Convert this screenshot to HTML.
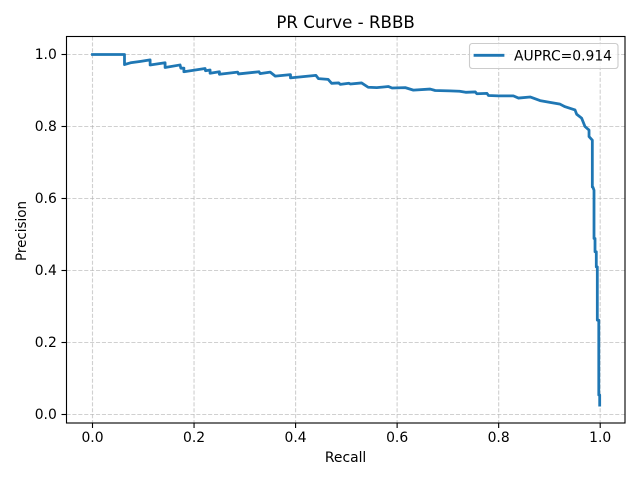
<!DOCTYPE html>
<html lang="en">
<head>
<meta charset="utf-8">
<title>PR Curve - RBBB</title>
<style>
html,body{margin:0;padding:0;background:#fff;width:640px;height:480px;overflow:hidden}
svg{display:block}
text{font-family:"DejaVu Sans",sans-serif;fill:#000}
</style>
</head>
<body>
<svg id="chart" xmlns="http://www.w3.org/2000/svg" width="640" height="480" viewBox="0 0 640 480">
  <rect x="0" y="0" width="640" height="480" fill="#fff"/>
  <g id="grid"></g>
  <path id="curve" fill="none" stroke="#1f77b4" stroke-width="2.78" stroke-linejoin="round" stroke-linecap="square"></path>
  <rect x="66.5" y="36.5" width="558.5" height="386.5" fill="none" stroke="#000" stroke-width="1.11"/>
  <g id="ticks"></g>
  <text x="345.6" y="28" font-size="16.67" text-anchor="middle">PR Curve - RBBB</text>
  <text x="345.6" y="462" font-size="13.89" text-anchor="middle">Recall</text>
  <text transform="translate(26 231) rotate(-90)" font-size="13.89" text-anchor="middle" textLength="60" lengthAdjust="spacingAndGlyphs">Precision</text>
  <g>
    <rect x="469.5" y="43.5" width="148.5" height="25" rx="2.8" fill="#fff" fill-opacity="0.8" stroke="#ccc" stroke-width="1.11"/>
    <line x1="475" y1="55.3" x2="503" y2="55.3" stroke="#1f77b4" stroke-width="2.78" stroke-linecap="square"/>
    <text x="514" y="60.3" font-size="13.89">AUPRC=0.914</text>
  </g>
</svg>
<script>
const recall = [0,0.063,0.063,0.075,0.095,0.1135,0.1135,0.143,0.143,0.1725,0.174,0.18,0.18,0.2218,0.2225,0.2316,0.2316,0.25,0.25,0.286,0.2875,0.328,0.33,0.35,0.36,0.39,0.39,0.44,0.445,0.464,0.471,0.485,0.488,0.505,0.508,0.53,0.543,0.56,0.583,0.59,0.616,0.632,0.665,0.675,0.704,0.723,0.735,0.754,0.757,0.777,0.78,0.80,0.829,0.839,0.862,0.8815,0.901,0.921,0.9307,0.9504,0.9537,0.9635,0.970,0.978,0.978,0.9845,0.9845,0.9855,0.9878,0.9878,0.9898,0.9898,0.9923,0.9923,0.9943,0.9943,0.9972,0.9972,0.999,0.999];
const precision = [1,1,0.972,0.977,0.981,0.985,0.971,0.977,0.964,0.971,0.962,0.962,0.952,0.961,0.955,0.957,0.948,0.952,0.945,0.951,0.946,0.952,0.947,0.951,0.94,0.944,0.935,0.942,0.933,0.931,0.92,0.921,0.917,0.92,0.918,0.921,0.909,0.908,0.911,0.907,0.908,0.901,0.904,0.9,0.899,0.898,0.895,0.896,0.891,0.892,0.886,0.885,0.885,0.879,0.882,0.872,0.867,0.862,0.855,0.846,0.834,0.823,0.8,0.79,0.772,0.762,0.632,0.632,0.623,0.489,0.489,0.452,0.452,0.41,0.41,0.262,0.262,0.054,0.054,0.026];
const xTickValues = [0,0.2,0.4,0.6,0.8,1];
const yTickValues = [0,0.2,0.4,0.6,0.8,1];
const xTickLabels = ["0.0","0.2","0.4","0.6","0.8","1.0"];
const yTickLabels = ["0.0","0.2","0.4","0.6","0.8","1.0"];

const NS = "http://www.w3.org/2000/svg";
function xScale(v){ return 92.5 + v * 507.7; }
function yScale(v){ return 414.5 - v * 360; }
function make(tag, attrs, parent){
  const el = document.createElementNS(NS, tag);
  for (const k in attrs) el.setAttribute(k, attrs[k]);
  parent.appendChild(el);
  return el;
}
const gridG = document.getElementById("grid");
const ticksG = document.getElementById("ticks");
const gridStyle = {stroke:"#b0b0b0","stroke-opacity":"0.6","stroke-width":"1.11","stroke-dasharray":"4.1 1.8",fill:"none"};

xTickValues.forEach(function(v, i){
  const x = xScale(v);
  const g = make("line", Object.assign({x1:x,x2:x,y1:36.5,y2:423}, gridStyle), gridG);
  
  
  const t = make("line", {x1:x,x2:x,y1:423,y2:428,stroke:"#000","stroke-width":"1.11"}, ticksG);
  
  
  const l = make("text", {x:x,y:442,"font-size":"13.89","text-anchor":"middle"}, ticksG);
  
  
  l.textContent = xTickLabels[i];
});
yTickValues.forEach(function(v, i){
  const y = yScale(v);
  const g = make("line", Object.assign({x1:66.5,x2:625,y1:y,y2:y}, gridStyle), gridG);
  
  
  const t = make("line", {x1:61.5,x2:66.5,y1:y,y2:y,stroke:"#000","stroke-width":"1.11"}, ticksG);
  
  
  const l = make("text", {x:56.8,y:y+4.7,"font-size":"13.89","text-anchor":"end"}, ticksG);
  
  
  l.textContent = yTickLabels[i];
});
document.getElementById("curve").setAttribute("d",
  recall.map(function(r, i){
    return (i ? "L" : "M") + xScale(r).toFixed(2) + " " + yScale(precision[i]).toFixed(2);
  }).join(" ")
);
</script>
</body>
</html>
